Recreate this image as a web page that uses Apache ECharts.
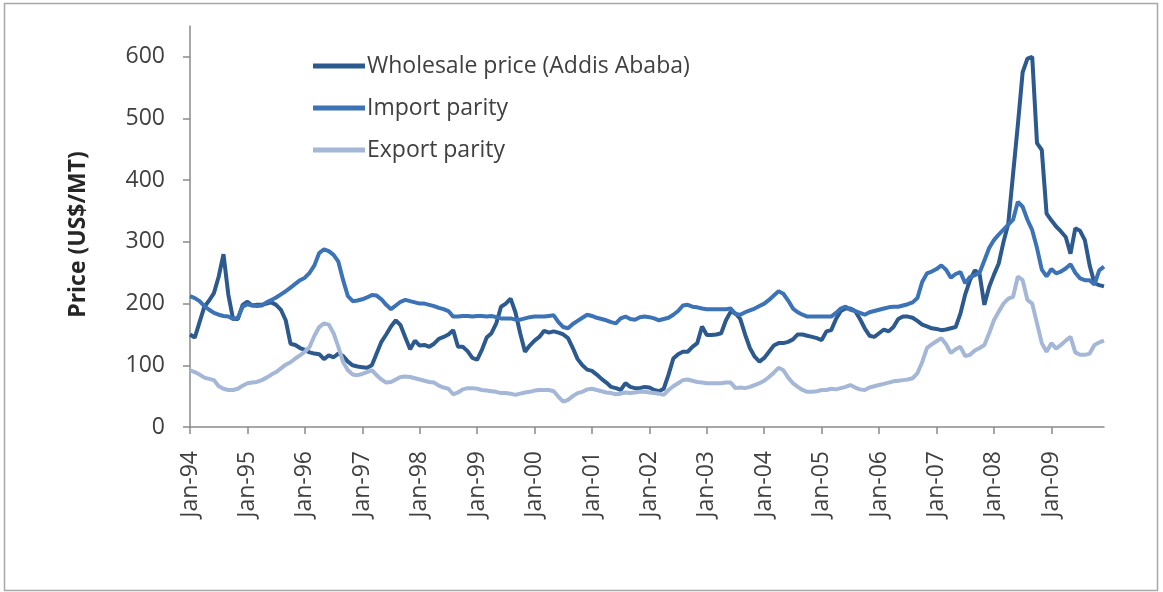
<!DOCTYPE html>
<html>
<head>
<meta charset="utf-8">
<script src="https://cdn.jsdelivr.net/npm/echarts@6/dist/echarts.min.js"></script>
<style>
html,body{margin:0;padding:0;background:#fff;}
#chart{width:1163px;height:592px;}
</style>
</head>
<body>
<div id="chart"></div>
<script>
// ---- Data (monthly, Jan-94 .. Dec-09), US$/MT ----
const monthNames = ['Jan','Feb','Mar','Apr','May','Jun','Jul','Aug','Sep','Oct','Nov','Dec'];
const yearLabels = ['94','95','96','97','98','99','00','01','02','03','04','05','06','07','08','09'];
const categories = [];
yearLabels.forEach(y => monthNames.forEach(m => categories.push(m + '-' + y)));

const seriesNames = ['Wholesale price (Addis Ababa)', 'Import parity', 'Export parity'];

const wholesale = [
  150,145,170,195,205,217,244,280,215,175,175,198,
  203,197,198,198,200,202,198,190,173,135,133,128,
  125,121,119,118,110,116,113,119,115,106,100,98,
  97,96,100,119,138,150,163,173,165,145,126,140,
  132,133,130,135,143,146,150,157,130,130,123,112,
  109,125,145,152,168,195,200,208,186,152,122,132,
  140,146,156,153,155,153,150,144,128,110,100,93,
  91,85,78,72,65,63,60,71,65,63,63,65,
  64,60,58,62,85,111,118,122,122,130,136,163,
  149,149,150,152,173,187,184,175,150,128,114,106,
  112,122,132,136,136,138,142,150,150,148,146,144,
  141,155,157,175,188,192,192,188,175,160,148,146,
  152,158,155,162,175,179,179,177,172,166,163,160,
  159,157,158,160,162,184,215,238,254,248,198,227,
  247,265,300,330,410,490,575,597,600,460,449,346,
  335,325,317,308,281,322,318,303,262,233,230,228
];

const importParity = [
  212,209,204,196,190,185,182,180,179,175,177,195,
  199,197,196,197,202,206,210,215,220,226,232,238,
  242,250,262,282,288,285,279,268,238,212,204,205,
  207,210,214,213,207,198,191,197,203,206,204,202,
  200,200,198,196,193,191,188,179,179,180,180,179,
  180,180,179,180,178,176,176,176,174,174,176,178,
  179,179,179,180,181,170,162,160,167,172,177,182,
  180,177,175,173,170,168,176,179,175,174,178,179,
  178,176,173,175,177,182,188,197,198,195,194,192,
  191,191,191,191,191,192,183,182,186,189,192,196,
  200,206,213,220,216,205,192,186,182,179,179,179,
  179,179,179,185,192,195,190,188,185,182,186,188,
  190,192,194,195,195,197,199,202,209,235,249,252,
  256,262,255,242,248,251,233,243,246,250,270,290,
  303,312,320,328,336,365,357,336,319,290,255,244,
  256,249,252,257,264,250,241,238,238,231,254,260
];

const exportParity = [
  92,89,85,80,78,76,66,62,60,60,62,67,
  71,72,73,76,80,85,89,95,101,105,111,116,
  122,130,148,162,168,166,152,130,105,92,85,84,
  86,89,92,84,77,72,73,77,81,82,81,79,
  77,75,73,72,67,64,62,53,56,61,63,63,
  62,60,59,58,57,55,55,54,52,54,56,57,
  59,60,60,60,58,49,41,44,50,55,57,61,
  62,60,58,56,55,53,54,56,55,56,57,57,
  56,55,54,52,60,66,71,76,77,75,73,72,
  71,71,71,71,72,72,63,64,63,65,68,71,
  75,81,88,96,92,80,71,65,60,57,57,58,
  60,60,62,61,63,65,68,64,61,60,64,66,
  68,70,72,74,75,76,77,79,87,105,128,134,
  139,144,134,120,126,130,115,117,124,128,133,152,
  173,187,200,208,211,244,238,206,200,168,136,122,
  136,127,133,140,146,121,117,117,119,133,137,140
];

const yTickValues = [0, 100, 200, 300, 400, 500, 600];
const yAxisTitle = 'Price (US$/MT)';

// ---- Styling ----
const colors = ['#2d5a8e', '#3c72b6', '#a4b7d6'];
const axisColor = '#8a8a8a';
const textColor = '#404040';
const fontFamily = '"Open Sans", "Noto Sans", sans-serif';

const chart = echarts.init(document.getElementById('chart'), null, {renderer: 'canvas'});
chart.setOption({
  animation: false,
  backgroundColor: '#ffffff',
  graphic: [{
    type: 'rect',
    shape: {x: 4.5, y: 3.5, width: 1153, height: 587},
    style: {fill: 'none', stroke: '#a8a8a8', lineWidth: 1.5},
    silent: true
  }],
  grid: {left: 190, right: 59, top: 26, bottom: 165, outerBoundsMode: 'none'},
  legend: {
    left: 308,
    top: 49,
    orient: 'vertical',
    icon: 'rect',
    itemWidth: 52,
    itemHeight: 5,
    itemGap: 18,
    data: seriesNames,
    textStyle: {fontFamily: fontFamily, fontSize: 23, color: textColor, lineHeight: 24, padding: [0, 0, 0, -3]}
  },
  xAxis: {
    type: 'category',
    boundaryGap: false,
    data: categories,
    axisLine: {show: true, lineStyle: {color: axisColor, width: 1.5}},
    axisTick: {show: true, interval: 11, length: 7, lineStyle: {color: axisColor, width: 1.5}},
    axisLabel: {
      interval: 11,
      rotate: 90,
      margin: 24,
      fontFamily: fontFamily,
      fontSize: 23,
      color: textColor
    },
    splitLine: {show: false}
  },
  yAxis: {
    type: 'value',
    min: 0,
    max: 650,
    interval: 100,
    name: yAxisTitle,
    nameLocation: 'middle',
    nameGap: 100,
    nameTextStyle: {fontFamily: fontFamily, fontSize: 23, fontWeight: 'bold', color: '#262626', padding: [0, 16, 0, 0]},
    axisLine: {show: true, lineStyle: {color: axisColor, width: 1.5}},
    axisTick: {show: true, length: 7, customValues: yTickValues, lineStyle: {color: axisColor, width: 1.5}},
    axisLabel: {
      customValues: yTickValues,
      margin: 25,
      fontFamily: fontFamily,
      fontSize: 23,
      color: textColor
    },
    splitLine: {show: false}
  },
  series: [
    {name: seriesNames[0], type: 'line', data: wholesale, symbol: 'none', color: colors[0], lineStyle: {width: 4, color: colors[0]}},
    {name: seriesNames[1], type: 'line', data: importParity, symbol: 'none', color: colors[1], lineStyle: {width: 4, color: colors[1]}},
    {name: seriesNames[2], type: 'line', data: exportParity, symbol: 'none', color: colors[2], lineStyle: {width: 4, color: colors[2]}}
  ]
});
</script>
</body>
</html>
